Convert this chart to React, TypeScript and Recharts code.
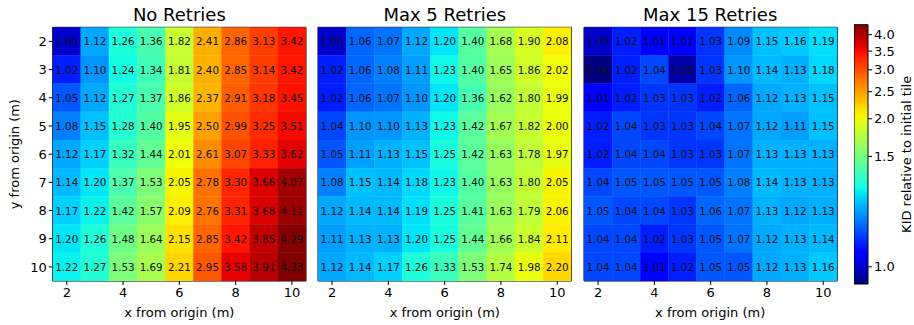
import React from 'react';
import { ScatterChart, Scatter, XAxis, YAxis, ReferenceArea } from 'recharts';

// ---------- data ----------
const xCategories = [2, 3, 4, 5, 6, 7, 8, 9, 10];
const yCategories = [2, 3, 4, 5, 6, 7, 8, 9, 10];
const xTicks = [2, 4, 6, 8, 10];
const yTicks = [2, 3, 4, 5, 6, 7, 8, 9, 10];
const panelTitles = ['No Retries', 'Max 5 Retries', 'Max 15 Retries'];
const colorbarTicks = [1.0, 1.5, 2.0, 2.5, 3.0, 3.5, 4.0];

// rows: y = 2..10, columns: x = 2..10
const noRetries = [
  [1.00, 1.12, 1.26, 1.36, 1.82, 2.41, 2.86, 3.13, 3.42],
  [1.02, 1.10, 1.24, 1.34, 1.81, 2.40, 2.85, 3.14, 3.42],
  [1.05, 1.12, 1.27, 1.37, 1.86, 2.37, 2.91, 3.18, 3.45],
  [1.08, 1.15, 1.28, 1.40, 1.95, 2.50, 2.99, 3.25, 3.51],
  [1.12, 1.17, 1.32, 1.44, 2.01, 2.61, 3.07, 3.33, 3.62],
  [1.14, 1.20, 1.37, 1.53, 2.05, 2.78, 3.30, 3.66, 4.07],
  [1.17, 1.22, 1.42, 1.57, 2.09, 2.76, 3.31, 3.68, 4.11],
  [1.20, 1.26, 1.48, 1.64, 2.15, 2.85, 3.42, 3.85, 4.29],
  [1.22, 1.27, 1.53, 1.69, 2.21, 2.95, 3.58, 3.91, 4.33],
];

const max5Retries = [
  [1.00, 1.06, 1.07, 1.12, 1.20, 1.40, 1.68, 1.90, 2.08],
  [1.02, 1.06, 1.08, 1.11, 1.23, 1.40, 1.65, 1.86, 2.02],
  [1.02, 1.06, 1.07, 1.10, 1.20, 1.36, 1.62, 1.80, 1.99],
  [1.04, 1.10, 1.10, 1.13, 1.23, 1.42, 1.67, 1.82, 2.00],
  [1.05, 1.11, 1.13, 1.15, 1.25, 1.42, 1.63, 1.78, 1.97],
  [1.08, 1.15, 1.14, 1.18, 1.23, 1.40, 1.63, 1.80, 2.05],
  [1.12, 1.14, 1.14, 1.19, 1.25, 1.41, 1.63, 1.79, 2.06],
  [1.11, 1.13, 1.13, 1.20, 1.25, 1.44, 1.66, 1.84, 2.11],
  [1.12, 1.14, 1.17, 1.26, 1.33, 1.53, 1.74, 1.98, 2.20],
];

const max15Retries = [
  [1.00, 1.02, 1.01, 1.01, 1.03, 1.09, 1.15, 1.16, 1.19],
  [0.9976, 1.02, 1.04, 0.9981, 1.03, 1.10, 1.14, 1.13, 1.18],
  [1.01, 1.02, 1.03, 1.03, 1.02, 1.06, 1.12, 1.13, 1.15],
  [1.02, 1.04, 1.03, 1.03, 1.04, 1.07, 1.12, 1.11, 1.15],
  [1.02, 1.04, 1.04, 1.03, 1.03, 1.07, 1.13, 1.13, 1.13],
  [1.04, 1.05, 1.05, 1.05, 1.05, 1.08, 1.14, 1.13, 1.13],
  [1.05, 1.04, 1.04, 1.03, 1.06, 1.07, 1.13, 1.12, 1.13],
  [1.04, 1.04, 1.02, 1.03, 1.05, 1.07, 1.12, 1.13, 1.14],
  [1.04, 1.04, 1.01, 1.02, 1.05, 1.05, 1.12, 1.13, 1.16],
];

const panelValues = [noRetries, max5Retries, max15Retries];

// ---------- colour normalisation (power norm) + jet ----------
const allValues = panelValues.flat(2);
const vmin = Math.min(...allValues);
const vmax = Math.max(...allValues);
const GAMMA = 0.375;
const norm = (v: number) => Math.pow(Math.max(0, (v - vmin) / (vmax - vmin)), GAMMA);
const invNorm = (p: number) => vmin + (vmax - vmin) * Math.pow(Math.max(0, p), 1 / GAMMA);

const JET: Record<string, number[][]> = {
  r: [[0, 0], [0.35, 0], [0.66, 1], [0.89, 1], [1, 0.5]],
  g: [[0, 0], [0.125, 0], [0.375, 1], [0.64, 1], [0.91, 0], [1, 0]],
  b: [[0, 0.5], [0.11, 1], [0.34, 1], [0.65, 0], [1, 0]],
};
const seg = (pts: number[][], t: number) => {
  for (let i = 1; i < pts.length; i++) {
    if (t <= pts[i][0]) {
      const [x0, y0] = pts[i - 1];
      const [x1, y1] = pts[i];
      return y0 + ((y1 - y0) * (t - x0)) / (x1 - x0);
    }
  }
  return pts[pts.length - 1][1];
};
const jet = (t: number) => {
  const c = Math.min(1, Math.max(0, t));
  const r = Math.round(seg(JET.r, c) * 255);
  const g = Math.round(seg(JET.g, c) * 255);
  const b = Math.round(seg(JET.b, c) * 255);
  return `rgb(${r},${g},${b})`;
};
const colorFor = (v: number) => jet(norm(v));

// ---------- layout ----------
const FONT = 'DejaVu Sans, Liberation Sans, sans-serif';
const W = 914;
const H = 325;
const PLOT_W = 253.3;
const PLOT_H = 253.7;
const PLOT_TOP = 27.3;
const PANEL_LEFTS = [52.7, 318.2, 583.5];
const CB_LEFT = 854;
const CB_W = 14;
const CB_TOP = 24.7;
const CB_BOTTOM = 284;

const CellShape = (props: any) => {
  const { cx, cy, payload } = props;
  if (cx == null || cy == null || !payload) return <g />;
  const w = PLOT_W / xCategories.length;
  const h = PLOT_H / yCategories.length;
  const fill = colorFor(payload.v);
  return (
    <g>
      <rect x={cx - w / 2} y={cy - h / 2} width={w} height={h} fill={fill} stroke={fill} strokeWidth={0.4} />
      <text
        x={cx}
        y={cy}
        textAnchor="middle"
        dominantBaseline="central"
        fontSize={10.3}
        fontFamily={FONT}
        fill="#111"
      >
        {payload.v.toFixed(2)}
      </text>
    </g>
  );
};

const tickStyle = { fontSize: 13, fill: '#000', fontFamily: FONT };

function Panel({ index }: { index: number }) {
  const values = panelValues[index];
  const data = yCategories.flatMap((y, r) => xCategories.map((x, c) => ({ x, y, v: values[r][c] })));
  const yAxisW = index === 0 ? PANEL_LEFTS[0] : 10;
  const left = PANEL_LEFTS[index] - yAxisW;
  const chartW = yAxisW + PLOT_W + 3;
  return (
    <div style={{ position: 'absolute', left, top: 0 }}>
      <ScatterChart
        width={chartW}
        height={H}
        margin={{ top: PLOT_TOP, right: 3, bottom: 0, left: 0 }}
      >
        <XAxis
          type="number"
          dataKey="x"
          domain={[1.5, 10.5]}
          ticks={xTicks}
          interval={0}
          allowDataOverflow
          height={H - PLOT_TOP - PLOT_H}
          tickSize={4}
          tickMargin={3}
          tick={tickStyle}
          stroke="#000"
          axisLine={false}
          tickLine={{ stroke: '#000' }}
        />
        <YAxis
          type="number"
          dataKey="y"
          domain={[1.5, 10.5]}
          ticks={yTicks}
          interval={0}
          reversed
          allowDataOverflow
          width={yAxisW}
          tickSize={4}
          tickMargin={2}
          tick={index === 0 ? tickStyle : false}
          stroke="#000"
          axisLine={false}
          tickLine={{ stroke: '#000' }}
        />
        <Scatter data={data} shape={CellShape} isAnimationActive={false} />
        <ReferenceArea
          x1={1.5}
          x2={10.5}
          y1={1.5}
          y2={10.5}
          fill="none"
          fillOpacity={0}
          stroke="#000"
          strokeWidth={1}
          ifOverflow="visible"
        />
      </ScatterChart>
    </div>
  );
}

const gradientStops = Array.from({ length: 65 }, (_, i) => i / 64);

function Colorbar() {
  const dummy = [{ x: 0.5, y: 0.5 }];
  return (
    <div style={{ position: 'absolute', left: CB_LEFT, top: 0 }}>
      <ScatterChart
        width={W - CB_LEFT}
        height={H}
        margin={{ top: CB_TOP, right: 0, bottom: H - CB_BOTTOM, left: 0 }}
      >
        <defs>
          <linearGradient id="jetGrad" x1="0" y1="1" x2="0" y2="0">
            {gradientStops.map((t) => (
              <stop key={t} offset={t} stopColor={jet(t)} />
            ))}
          </linearGradient>
        </defs>
        <XAxis type="number" dataKey="x" domain={[0, 1]} hide />
        <YAxis
          type="number"
          dataKey="y"
          orientation="right"
          domain={[0, 1]}
          allowDataOverflow
          ticks={colorbarTicks.map(norm)}
          interval={0}
          tickFormatter={(p: number) => invNorm(p).toFixed(1)}
          width={W - CB_LEFT - CB_W}
          tickSize={4}
          tickMargin={2}
          tick={tickStyle}
          axisLine={false}
          tickLine={{ stroke: '#000' }}
        />
        <Scatter data={dummy} shape={() => <g />} isAnimationActive={false} />
        <ReferenceArea
          x1={0}
          x2={1}
          y1={0}
          y2={1}
          fill="url(#jetGrad)"
          fillOpacity={1}
          stroke="#000"
          strokeWidth={1}
          ifOverflow="visible"
        />
      </ScatterChart>
    </div>
  );
}

export default function App() {
  return (
    <div
      style={{
        position: 'absolute',
        left: 0,
        top: 0,
        width: W,
        height: H,
        overflow: 'hidden',
        background: '#fff',
        fontFamily: FONT,
      }}
    >
      {panelTitles.map((_, i) => (
        <Panel key={i} index={i} />
      ))}
      <Colorbar />
      <svg
        width={W}
        height={H}
        style={{ position: 'absolute', left: 0, top: 0, pointerEvents: 'none' }}
      >
        {panelTitles.map((t, i) => (
          <text
            key={t}
            x={PANEL_LEFTS[i] + PLOT_W / 2}
            y={20.5}
            textAnchor="middle"
            fontSize={18}
            fontFamily={FONT}
            fill="#000"
          >
            {t}
          </text>
        ))}
        {panelTitles.map((t, i) => (
          <text
            key={'xl' + t}
            x={PANEL_LEFTS[i] + PLOT_W / 2}
            y={316.5}
            textAnchor="middle"
            fontSize={13}
            fontFamily={FONT}
            fill="#000"
          >
            x from origin (m)
          </text>
        ))}
        <text
          x={19}
          y={PLOT_TOP + PLOT_H / 2}
          textAnchor="middle"
          fontSize={13}
          fontFamily={FONT}
          fill="#000"
          transform={`rotate(-90 19 ${PLOT_TOP + PLOT_H / 2})`}
        >
          y from origin (m)
        </text>
        <text
          x={911}
          y={(CB_TOP + CB_BOTTOM) / 2}
          textAnchor="middle"
          fontSize={13}
          fontFamily={FONT}
          fill="#000"
          transform={`rotate(-90 911 ${(CB_TOP + CB_BOTTOM) / 2})`}
        >
          KID relative to initial tile
        </text>
      </svg>
    </div>
  );
}
